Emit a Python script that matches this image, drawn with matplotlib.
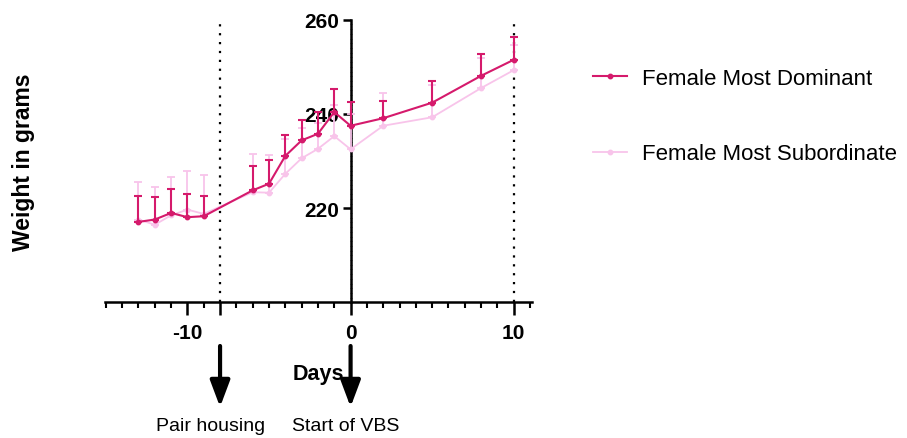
import numpy as np
import matplotlib
matplotlib.use('Agg')
import matplotlib.pyplot as plt
from matplotlib.lines import Line2D
from matplotlib.ticker import MultipleLocator

plt.rcParams['font.family'] = ['Liberation Sans', 'DejaVu Sans']

# body weight per day relative to start of VBS (mean + SEM, upper bars only)
days = [-13, -12, -11, -10, -9, -6, -5, -4, -3, -2, -1, 0, 2, 5, 8, 10]
dom_mean = [217.1, 217.6, 219.0, 218.1, 218.3, 223.8, 225.2, 231.1, 234.4, 235.8,
            240.4, 237.5, 239.1, 242.4, 248.1, 251.5]
dom_sem = [5.6, 4.8, 5.0, 5.0, 4.4, 5.1, 5.1, 4.5, 4.4, 4.6, 4.9, 5.0, 3.7, 4.7, 4.6, 4.8]
sub_mean = [217.6, 216.5, 218.5, 219.7, 218.8, 223.4, 223.3, 227.3, 230.6, 232.6,
            235.3, 232.5, 237.5, 239.3, 245.5, 249.3]
sub_sem = [7.9, 8.1, 8.2, 8.3, 8.2, 8.2, 8.0, 7.4, 6.4, 5.4, 6.6, 7.5, 7.0, 6.9, 6.3, 5.4]

labels = ['Female Most Dominant', 'Female Most Subordinate']
events = [-8, 0]
event_names = ['Pair housing', 'Start of VBS']

dark = '#d51a6c'
light = '#f8c4ea'

fig = plt.figure(figsize=(9.07, 4.39), dpi=100)
ax = fig.add_axes([0.1158, 0.3087, 0.4704, 0.6441])

def plot_group(mean, sem, color, lw, z):
    mean = np.array(mean)
    sem = np.array(sem)
    ax.errorbar(days, mean, yerr=[np.zeros_like(sem), sem], color=color, lw=lw,
                marker='o', ms=3.2, elinewidth=lw, capsize=3, capthick=lw, zorder=z)

plot_group(sub_mean, sub_sem, light, 1.3, 3)
plot_group(dom_mean, dom_sem, dark, 1.5, 4)

# dotted markers at pair housing and end
for xv in [-8, 10]:
    ax.axvline(xv, color='black', lw=1.6, ls=(0, (1, 3)), zorder=2)

ax.set_xlim(-15.05, 11.1)
ax.set_ylim(200, 260)

ax.spines['top'].set_visible(False)
ax.spines['right'].set_visible(False)
ax.spines['left'].set_position(('data', 0))
ax.spines['left'].set_linewidth(1.8)
ax.spines['bottom'].set_linewidth(1.8)

ax.set_xticks([-10, -8, 0, 10])
ax.set_xticklabels(['-10', '', '0', '10'])
ax.xaxis.set_minor_locator(MultipleLocator(1))
ax.set_yticks([220, 240, 260])
ax.yaxis.set_minor_locator(MultipleLocator(1))

ax.tick_params(axis='x', which='major', length=9.5, width=1.8, direction='out', pad=5)
ax.tick_params(axis='x', which='minor', length=4.5, width=1.5, direction='out')
ax.tick_params(axis='y', which='major', length=6, width=1.8, direction='out', pad=2)
ax.tick_params(axis='y', which='minor', length=2, width=0.6, direction='inout', color='#555555')
for t in ax.get_xticklabels() + ax.get_yticklabels():
    t.set_fontsize(15)
    t.set_fontweight('bold')

fig.text(24 / 907, 1 - 162 / 439, 'Weight in grams', rotation=90, fontsize=16.5,
         fontweight='bold', ha='center', va='center')

ax.annotate('Days', xy=(-2, 1 - 375 / 439), xycoords=('data', 'figure fraction'),
            fontsize=15.5, fontweight='bold', ha='center', va='center')

# arrows marking the events below the axis
for xv, name, dx in zip(events, event_names, [-0.6, -0.3]):
    ax.annotate('', xy=(xv, 1 - 408 / 439), xytext=(xv, 1 - 347 / 439),
                xycoords=('data', 'figure fraction'), textcoords=('data', 'figure fraction'),
                arrowprops=dict(arrowstyle='-|>,head_length=0.8,head_width=0.3',
                                lw=3, color='black', shrinkA=0, shrinkB=0,
                                mutation_scale=20))
    ax.annotate(name, xy=(xv + dx, 1 - 427 / 439), xycoords=('data', 'figure fraction'),
                fontsize=14, ha='center', va='center')

handles = [Line2D([], [], color=dark, lw=1.5, marker='o', ms=3.2),
           Line2D([], [], color=light, lw=1.3, marker='o', ms=3.2)]
fig.legend(handles, labels, loc='upper left', bbox_to_anchor=(593 / 907, 1 - 69 / 439),
           frameon=False, fontsize=16, handlelength=1.53, handletextpad=0.68,
           labelspacing=2.45, borderaxespad=0, borderpad=0)

fig.savefig('out.png', dpi=100)
